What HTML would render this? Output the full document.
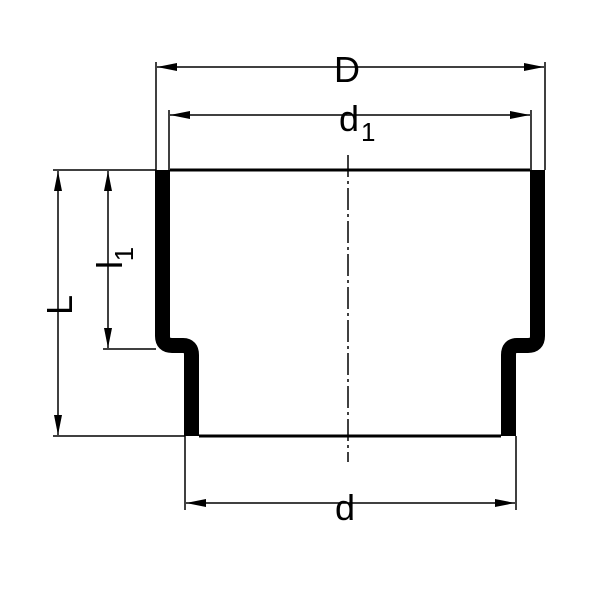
<!DOCTYPE html>
<html><head><style>body{margin:0;background:#fff}svg{display:block}</style></head><body>
<svg width="600" height="600" viewBox="0 0 600 600" xmlns="http://www.w3.org/2000/svg">
<defs><marker id="a" viewBox="0 0 20 8" refX="20" refY="4" markerWidth="20" markerHeight="8" markerUnits="userSpaceOnUse" orient="auto-start-reverse"><path d="M20,4 L0,0 L0,8 Z" fill="#000"/></marker></defs>
<g stroke="#000" stroke-width="1.5" fill="none">
<line x1="156" y1="62" x2="156" y2="170"/>
<line x1="545" y1="62" x2="545" y2="170"/>
<line x1="169" y1="110" x2="169" y2="170"/>
<line x1="531" y1="110" x2="531" y2="170"/>
<line x1="185" y1="436" x2="185" y2="510"/>
<line x1="516" y1="436" x2="516" y2="510"/>
<line x1="53" y1="170" x2="156" y2="170"/>
<line x1="53" y1="436" x2="185" y2="436"/>
<line x1="103" y1="349" x2="156" y2="349"/>
<line x1="157" y1="67" x2="544" y2="67" marker-start="url(#a)" marker-end="url(#a)"/>
<line x1="170" y1="115" x2="530" y2="115" marker-start="url(#a)" marker-end="url(#a)"/>
<line x1="186" y1="503" x2="515" y2="503" marker-start="url(#a)" marker-end="url(#a)"/>
<line x1="58" y1="171" x2="58" y2="435" marker-start="url(#a)" marker-end="url(#a)"/>
<line x1="108" y1="171" x2="108" y2="348" marker-start="url(#a)" marker-end="url(#a)"/>
<line x1="348" y1="155" x2="348" y2="462" stroke-dasharray="22,4,3,4"/>
</g>
<g stroke="#000" fill="none">
<line x1="170" y1="170" x2="530" y2="170" stroke-width="3"/>
<line x1="199" y1="436" x2="501" y2="436" stroke-width="3"/>
<path d="M162.5,170 V336 Q162.5,345.5 172,345.5 H183 Q191.5,345.5 191.5,355 V436" stroke-width="15"/>
<path d="M537.5,170 V336 Q537.5,345.5 528,345.5 H517 Q508.5,345.5 508.5,355 V436" stroke-width="15"/>
</g>
<g font-family="Liberation Sans, sans-serif" fill="#000">
<text x="347" y="82" font-size="36" text-anchor="middle">D</text>
<text x="339" y="131" font-size="36">d</text><text x="361" y="141" font-size="26">1</text>
<text x="345" y="520" font-size="36" text-anchor="middle">d</text>
<text transform="translate(72,305) rotate(-90)" font-size="36" text-anchor="middle">L</text>
<text transform="translate(122,265) rotate(-90)" font-size="36" text-anchor="middle">l</text>
<text transform="translate(133,254) rotate(-90)" font-size="26" text-anchor="middle">1</text>
</g>
</svg>
</body></html>
